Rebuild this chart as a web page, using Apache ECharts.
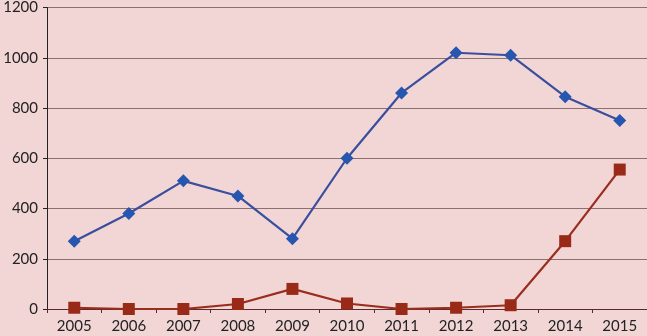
<!DOCTYPE html>
<html><head><meta charset="utf-8">
<script src="https://cdn.jsdelivr.net/npm/echarts@6/dist/echarts.min.js"></script>
<style>html,body{margin:0;padding:0;background:#f2d6d6;}#c{width:647px;height:336px;}</style>
</head><body><div id="c"></div>
<script>
const categories = ['2005','2006','2007','2008','2009','2010','2011','2012','2013','2014','2015'];
const seriesBlue = [270,380,510,450,280,600,860,1020,1010,845,750];
const seriesRed = [5,0,0,20,80,22,0,5,15,270,555];
const yTicks = [0,200,400,600,800,1000,1200];

const chart = echarts.init(document.getElementById('c'));
chart.setOption({
  backgroundColor:'#f2d6d6',
  animation:false,
  grid:{left:47,right:0,top:5,bottom:27,containLabel:false},
  xAxis:{type:'category',data:categories,boundaryGap:true,
    axisLine:{lineStyle:{color:'#5a2a2a',width:1}},
    axisTick:{show:true,inside:false,length:4,lineStyle:{color:'#5a2a2a'}},
    axisLabel:{color:'#222',fontFamily:'Lato',fontSize:15,margin:10}},
  yAxis:{type:'value',min:0,max:1200,interval:200,
    axisLine:{show:true,lineStyle:{color:'#222'}},
    axisTick:{show:true,length:4,lineStyle:{color:'#222'}},
    splitLine:{lineStyle:{color:'#8c7070',width:1}},
    axisLabel:{color:'#222',fontFamily:'Lato',fontSize:15,margin:9,
      formatter:v=>yTicks.includes(v)?String(v):''}},
  series:[
    {type:'line',data:seriesBlue,symbol:'diamond',symbolSize:13,
      lineStyle:{color:'#3a4e9e',width:2.2},itemStyle:{color:'#2656b0'}},
    {type:'line',data:seriesRed,symbol:'rect',symbolSize:12,
      lineStyle:{color:'#9a2e1e',width:2.2},itemStyle:{color:'#9a2a18'}}
  ]
});
</script></body></html>
